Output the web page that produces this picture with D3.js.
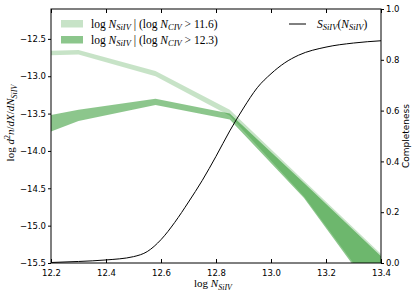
<!DOCTYPE html>
<html>
<head>
<meta charset="utf-8">
<script src="https://cdn.jsdelivr.net/npm/d3@7"></script>
<style>
  body { margin: 0; background: #fff; }
  svg { display: block; }
  .tick text { font-family: "DejaVu Sans", sans-serif; font-size: 8.5px; }
  .math { font-family: "Liberation Serif", serif; font-size: 11px; }
  .leg { font-size: 11.5px; }
</style>
</head>
<body>
<svg width="416" height="296"></svg>
<script>
// bin centres (log N_SiIV) and the two bands
const nSiIV = [12.2, 12.3, 12.58, 12.85, 13.12, 13.4];
const lightLo = [-12.72, -12.71, -13.0, -13.53, -14.61, -16.0];
const lightHi = [-12.66, -12.65, -12.93, -13.45, -14.40, -15.38];
const darkLo = [-13.74, -13.60, -13.385, -13.58, -14.63, -16.04];
const darkHi = [-13.52, -13.45, -13.30, -13.50, -14.43, -15.41];

// completeness curve S_SiIV(N_SiIV)
const compX = [12.2, 12.3, 12.4, 12.5, 12.55, 12.6, 12.65, 12.7, 12.75, 12.8, 12.85, 12.9, 12.95, 13.0, 13.05, 13.1, 13.2, 13.3, 13.4];
const compY = [0.002, 0.006, 0.012, 0.025, 0.045, 0.092, 0.16, 0.24, 0.325, 0.42, 0.52, 0.61, 0.69, 0.745, 0.788, 0.818, 0.85, 0.866, 0.875];

const xTicks = [12.2, 12.4, 12.6, 12.8, 13.0, 13.2, 13.4];
const yTicks = [-12.5, -13.0, -13.5, -14.0, -14.5, -15.0, -15.5];
const cTicks = [0.0, 0.2, 0.4, 0.6, 0.8, 1.0];

const svg = d3.select("svg");
const margin = {left: 51, right: 381, top: 9, bottom: 263};

const x = d3.scaleLinear().domain([12.2, 13.4]).range([margin.left, margin.right]);
const y = d3.scaleLinear().domain([-15.5, -12.1]).range([margin.bottom, margin.top]);
const yc = d3.scaleLinear().domain([0, 1]).range([margin.bottom, margin.top]);

svg.append("defs").append("clipPath")
  .attr("id", "cp1")
  .append("rect")
  .attr("x", margin.left).attr("y", margin.top)
  .attr("width", margin.right - margin.left).attr("height", margin.bottom - margin.top);

const g = svg.append("g").attr("clip-path", "url(#cp1)");

const band = (lo, hi) => d3.area()
  .x((d, i) => x(nSiIV[i]))
  .y0((d, i) => y(lo[i]))
  .y1((d, i) => y(hi[i]))(nSiIV);

g.append("path")
  .attr("d", band(lightLo, lightHi))
  .attr("fill", "green").attr("fill-opacity", 0.22);

g.append("path")
  .attr("d", band(darkLo, darkHi))
  .attr("fill", "green").attr("fill-opacity", 0.45);

const line = d3.line()
  .x((d, i) => x(compX[i]))
  .y((d, i) => yc(compY[i]))
  .curve(d3.curveMonotoneX);

g.append("path")
  .attr("d", line(compX))
  .attr("fill", "none")
  .attr("stroke", "black")
  .attr("stroke-width", 1);

// axes
const fmt = d => d3.format(".1f")(d).replace("-", "\u2212");

svg.append("g")
  .attr("transform", `translate(0,${margin.bottom})`)
  .call(d3.axisBottom(x).tickValues(xTicks).tickFormat(fmt).tickSizeInner(-4).tickSizeOuter(0).tickPadding(7))
  .call(a => a.select(".domain").remove());

svg.append("g")
  .attr("transform", `translate(0,${margin.top})`)
  .call(d3.axisTop(x).tickValues(xTicks).tickFormat("").tickSizeInner(-4).tickSizeOuter(0))
  .call(a => a.select(".domain").remove());

svg.append("g")
  .attr("transform", `translate(${margin.left},0)`)
  .call(d3.axisLeft(y).tickValues(yTicks).tickFormat(fmt).tickSize(3).tickPadding(2))
  .call(a => a.select(".domain").remove());

svg.append("g")
  .attr("transform", `translate(${margin.right},0)`)
  .call(d3.axisRight(yc).tickValues(cTicks).tickFormat(fmt).tickSize(3).tickPadding(2))
  .call(a => a.select(".domain").remove());

svg.selectAll(".tick line").attr("stroke", "black");
svg.selectAll(".tick text").attr("fill", "black");

svg.append("rect")
  .attr("x", margin.left).attr("y", margin.top)
  .attr("width", margin.right - margin.left).attr("height", margin.bottom - margin.top)
  .attr("fill", "none").attr("stroke", "black").attr("stroke-width", 1);

// helper for mathtext-like labels
function mathText(sel, parts, subSize) {
  parts.forEach(p => {
    const t = sel.append("tspan").text(p.t);
    if (p.i) t.attr("font-style", "italic");
    if (p.sub) t.attr("font-size", (subSize || 8) + "px").attr("dy", 2.5);
    if (p.sup) t.attr("font-size", (subSize || 8) + "px").attr("dy", -4);
    if (p.back) t.attr("dy", p.back);
  });
}

// x label
const xl = svg.append("text").attr("class", "math")
  .attr("x", 213).attr("y", 287).attr("text-anchor", "middle");
mathText(xl, [{t: "log "}, {t: "N", i: 1}, {t: "SiIV", i: 1, sub: 1}]);

// left y label
const yl = svg.append("text").attr("class", "math")
  .attr("transform", "translate(14,123) rotate(-90)")
  .attr("text-anchor", "middle");
mathText(yl, [{t: "log "}, {t: "d", i: 1}, {t: "2", sup: 1}, {t: "n", i: 1, back: 4},
  {t: "/"}, {t: "dX", i: 1}, {t: "/"}, {t: "dN", i: 1}, {t: "SiIV", i: 1, sub: 1}]);

// right y label
svg.append("text")
  .attr("transform", "translate(409,136) rotate(-90)")
  .attr("text-anchor", "middle")
  .style("font-family", "DejaVu Sans, sans-serif")
  .style("font-size", "9px")
  .text("Completeness");

// legend
const legendRows = [
  {op: 0.22, cut: "11.6", yy: 20},
  {op: 0.45, cut: "12.3", yy: 36}
];
legendRows.forEach(r => {
  svg.append("rect")
    .attr("x", 61).attr("y", r.yy).attr("width", 22).attr("height", 7.5)
    .attr("fill", "green").attr("fill-opacity", r.op);
  const t = svg.append("text").attr("class", "math leg")
    .attr("x", 91).attr("y", r.yy + 7.5);
  mathText(t, [{t: "log "}, {t: "N", i: 1}, {t: "SiIV", i: 1, sub: 1}, {t: " | (log ", back: -2.5},
    {t: "N", i: 1}, {t: "CIV", i: 1, sub: 1}, {t: " > " + r.cut + ")", back: -2.5}], 8.5);
});

svg.append("line")
  .attr("x1", 289).attr("x2", 306).attr("y1", 24).attr("y2", 24)
  .attr("stroke", "black").attr("stroke-width", 1);
const st = svg.append("text").attr("class", "math leg")
  .attr("x", 317).attr("y", 27.5);
mathText(st, [{t: "S", i: 1}, {t: "SiIV", i: 1, sub: 1}, {t: "(", back: -2.5}, {t: "N", i: 1},
  {t: "SiIV", i: 1, sub: 1}, {t: ")", back: -2.5}], 8.5);
</script>
</body>
</html>
